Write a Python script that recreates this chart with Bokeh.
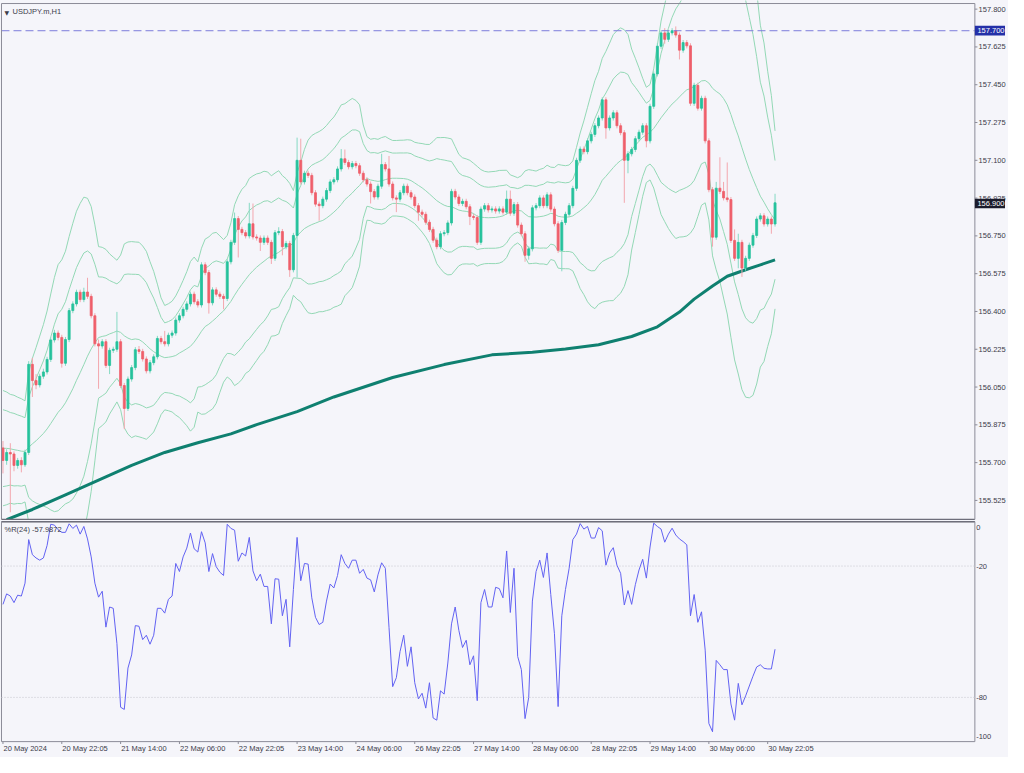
import numpy as np
from bokeh.plotting import figure
from bokeh.layouts import column
from bokeh.models import Range1d, Label, ColumnDataSource
from bokeh.core.properties import value
from bokeh.embed import file_html
from bokeh.resources import INLINE

# ---------------- data (USDJPY.m, H1) ----------------
opens = [155.768, 155.710, 155.747, 155.740, 155.687, 155.710, 155.690, 155.747, 156.155, 156.080,
         156.060, 156.100, 156.120, 156.178, 156.268, 156.300, 156.280, 156.160, 156.270, 156.404,
         156.435, 156.489, 156.455, 156.490, 156.470, 156.380, 156.250, 156.240, 156.260, 156.150,
         156.220, 156.225, 156.260, 156.057, 155.951, 156.087, 156.140, 156.223, 156.215, 156.180,
         156.125, 156.163, 156.190, 156.275, 156.260, 156.250, 156.290, 156.300, 156.360, 156.380,
         156.410, 156.435, 156.480, 156.445, 156.430, 156.616, 156.580, 156.440, 156.500, 156.480,
         156.470, 156.460, 156.630, 156.720, 156.830, 156.780, 156.765, 156.750, 156.806, 156.745,
         156.740, 156.720, 156.740, 156.720, 156.646, 156.765, 156.770, 156.700, 156.715, 156.593,
         156.752, 157.100, 157.000, 157.040, 157.030, 156.950, 156.897, 156.890, 156.920, 156.960,
         157.000, 157.010, 157.060, 157.107, 157.090, 157.070, 157.085, 157.075, 157.040, 157.010,
         156.990, 156.955, 156.930, 156.980, 157.080, 157.060, 156.990, 156.926, 156.920, 156.950,
         156.980, 156.950, 156.930, 156.890, 156.860, 156.850, 156.813, 156.780, 156.730, 156.700,
         156.760, 156.765, 156.810, 156.956, 156.930, 156.900, 156.910, 156.885, 156.840, 156.835,
         156.720, 156.874, 156.890, 156.870, 156.875, 156.865, 156.875, 156.860, 156.920, 156.855,
         156.895, 156.800, 156.760, 156.660, 156.690, 156.880, 156.890, 156.926, 156.890, 156.940,
         156.874, 156.806, 156.683, 156.812, 156.850, 156.890, 156.970, 157.100, 157.152, 157.140,
         157.190, 157.220, 157.260, 157.296, 157.380, 157.250, 157.296, 157.320, 157.260, 157.228,
         157.100, 157.130, 157.150, 157.200, 157.230, 157.260, 157.190, 157.350, 157.500, 157.628,
         157.690, 157.660, 157.690, 157.700, 157.680, 157.610, 157.645, 157.630, 157.364, 157.447,
         157.341, 157.387, 157.190, 156.964, 156.744, 156.971, 156.956, 156.926, 156.918, 156.729,
         156.646, 156.720, 156.601, 156.646, 156.707, 156.752, 156.828, 156.843, 156.805, 156.828,
         156.805]

highs = [155.800, 155.762, 155.790, 155.752, 155.722, 155.725, 155.760, 156.170, 156.185, 156.110,
         156.112, 156.135, 156.190, 156.280, 156.315, 156.312, 156.292, 156.282, 156.416, 156.447,
         156.501, 156.501, 156.510, 156.556, 156.482, 156.392, 156.270, 156.272, 156.272, 156.232,
         156.237, 156.398, 156.272, 156.069, 156.099, 156.152, 156.235, 156.240, 156.227, 156.192,
         156.175, 156.202, 156.287, 156.287, 156.310, 156.302, 156.312, 156.372, 156.392, 156.422,
         156.447, 156.492, 156.492, 156.457, 156.628, 156.628, 156.592, 156.512, 156.512, 156.492,
         156.482, 156.642, 156.732, 156.858, 156.842, 156.792, 156.777, 156.903, 156.900, 156.757,
         156.752, 156.752, 156.752, 156.732, 156.777, 156.790, 156.782, 156.727, 156.727, 156.764,
         157.205, 157.200, 157.052, 157.052, 157.042, 156.962, 156.909, 156.932, 156.972, 157.012,
         157.022, 157.072, 157.152, 157.150, 157.102, 157.097, 157.097, 157.087, 157.052, 157.022,
         157.002, 156.967, 156.992, 157.130, 157.092, 157.120, 157.002, 156.938, 156.962, 156.992,
         156.992, 156.962, 156.942, 156.902, 156.872, 156.862, 156.825, 156.792, 156.742, 156.772,
         156.777, 156.822, 156.968, 156.968, 156.942, 156.922, 156.922, 156.897, 156.852, 156.847,
         156.886, 156.902, 156.902, 156.887, 156.887, 156.887, 156.887, 156.960, 156.960, 156.907,
         156.907, 156.812, 156.772, 156.702, 156.892, 156.902, 156.938, 156.938, 156.952, 156.952,
         156.886, 156.818, 156.824, 156.862, 156.902, 156.982, 157.112, 157.164, 157.164, 157.202,
         157.232, 157.272, 157.308, 157.392, 157.392, 157.308, 157.332, 157.332, 157.272, 157.240,
         157.142, 157.162, 157.212, 157.242, 157.272, 157.272, 157.362, 157.512, 157.642, 157.702,
         157.712, 157.702, 157.712, 157.720, 157.692, 157.657, 157.657, 157.642, 157.459, 157.459,
         157.399, 157.399, 157.202, 156.976, 157.000, 157.114, 157.000, 157.090, 156.930, 156.780,
         156.760, 156.732, 156.658, 156.719, 156.764, 156.840, 156.855, 156.855, 156.840, 156.840,
         156.945]

lows = [155.650, 155.690, 155.470, 155.660, 155.672, 155.655, 155.680, 155.735, 156.004, 156.040,
        156.048, 156.088, 156.108, 156.166, 156.256, 156.266, 156.140, 156.148, 156.258, 156.392,
        156.423, 156.443, 156.443, 156.458, 156.368, 156.238, 156.042, 156.228, 156.138, 156.110,
        156.208, 156.213, 156.045, 155.855, 155.939, 156.075, 156.128, 156.203, 156.168, 156.113,
        156.113, 156.151, 156.178, 156.248, 156.238, 156.238, 156.278, 156.288, 156.348, 156.368,
        156.398, 156.423, 156.433, 156.418, 156.418, 156.568, 156.390, 156.428, 156.468, 156.458,
        156.410, 156.448, 156.618, 156.708, 156.650, 156.753, 156.738, 156.738, 156.733, 156.728,
        156.680, 156.708, 156.708, 156.620, 156.634, 156.753, 156.660, 156.688, 156.560, 156.581,
        156.557, 156.988, 156.988, 157.018, 156.938, 156.885, 156.820, 156.878, 156.908, 156.948,
        156.988, 156.998, 157.048, 157.078, 157.058, 157.058, 157.063, 157.028, 156.998, 156.978,
        156.900, 156.918, 156.918, 156.968, 157.048, 156.978, 156.914, 156.860, 156.908, 156.938,
        156.938, 156.918, 156.878, 156.820, 156.838, 156.801, 156.768, 156.718, 156.688, 156.688,
        156.748, 156.753, 156.798, 156.918, 156.888, 156.888, 156.873, 156.800, 156.823, 156.708,
        156.708, 156.862, 156.858, 156.858, 156.853, 156.853, 156.848, 156.848, 156.843, 156.843,
        156.788, 156.748, 156.630, 156.640, 156.678, 156.868, 156.878, 156.878, 156.878, 156.862,
        156.794, 156.671, 156.586, 156.800, 156.838, 156.878, 156.958, 157.088, 157.128, 157.128,
        157.178, 157.208, 157.248, 157.284, 157.200, 157.238, 157.284, 157.248, 157.216, 156.903,
        157.040, 157.118, 157.138, 157.188, 157.218, 157.160, 157.178, 157.338, 157.488, 157.616,
        157.640, 157.648, 157.678, 157.668, 157.567, 157.598, 157.618, 157.352, 157.352, 157.330,
        157.330, 157.178, 156.952, 156.700, 156.732, 156.944, 156.914, 156.906, 156.717, 156.634,
        156.600, 156.560, 156.589, 156.634, 156.695, 156.740, 156.816, 156.793, 156.793, 156.760,
        156.793]

closes = [155.710, 155.747, 155.740, 155.687, 155.710, 155.690, 155.747, 156.155, 156.080, 156.060,
          156.100, 156.120, 156.178, 156.268, 156.300, 156.280, 156.160, 156.270, 156.404, 156.435,
          156.489, 156.455, 156.490, 156.470, 156.380, 156.250, 156.240, 156.260, 156.150, 156.220,
          156.225, 156.260, 156.057, 155.951, 156.087, 156.140, 156.223, 156.215, 156.180, 156.125,
          156.163, 156.190, 156.275, 156.260, 156.250, 156.290, 156.300, 156.360, 156.380, 156.410,
          156.435, 156.480, 156.445, 156.430, 156.616, 156.580, 156.440, 156.500, 156.480, 156.470,
          156.460, 156.630, 156.720, 156.830, 156.780, 156.765, 156.750, 156.806, 156.745, 156.740,
          156.720, 156.740, 156.720, 156.646, 156.765, 156.770, 156.700, 156.715, 156.593, 156.752,
          157.100, 157.000, 157.040, 157.030, 156.950, 156.897, 156.890, 156.920, 156.960, 157.000,
          157.010, 157.060, 157.107, 157.090, 157.070, 157.085, 157.075, 157.040, 157.010, 156.990,
          156.955, 156.930, 156.980, 157.080, 157.060, 156.990, 156.926, 156.920, 156.950, 156.980,
          156.950, 156.930, 156.890, 156.860, 156.850, 156.813, 156.780, 156.730, 156.700, 156.760,
          156.765, 156.810, 156.956, 156.930, 156.900, 156.910, 156.885, 156.840, 156.835, 156.720,
          156.874, 156.890, 156.870, 156.875, 156.865, 156.875, 156.860, 156.920, 156.855, 156.895,
          156.800, 156.760, 156.660, 156.690, 156.880, 156.890, 156.926, 156.890, 156.940, 156.874,
          156.806, 156.683, 156.812, 156.850, 156.890, 156.970, 157.100, 157.152, 157.140, 157.190,
          157.220, 157.260, 157.296, 157.380, 157.250, 157.296, 157.320, 157.260, 157.228, 157.100,
          157.130, 157.150, 157.200, 157.230, 157.260, 157.190, 157.350, 157.500, 157.628, 157.690,
          157.660, 157.690, 157.700, 157.680, 157.610, 157.645, 157.630, 157.364, 157.447, 157.341,
          157.387, 157.190, 156.964, 156.744, 156.971, 156.956, 156.926, 156.918, 156.729, 156.646,
          156.720, 156.601, 156.646, 156.707, 156.752, 156.828, 156.843, 156.805, 156.828, 156.805,
          156.903]

# Bollinger (20) middle / deviation for the first bars, whose window reaches before the chart
band_mid_head = [155.767, 155.766, 155.764, 155.760, 155.757, 155.753, 155.752, 155.771, 155.787,
                 155.801, 155.818, 155.835, 155.856, 155.881, 155.907, 155.933, 155.952, 155.977,
                 156.009]
band_sd_head = [0.089, 0.087, 0.084, 0.084, 0.082, 0.081, 0.078, 0.116, 0.132, 0.144, 0.156,
                0.168, 0.182, 0.200, 0.217, 0.228, 0.229, 0.234, 0.246]

# 200-period moving average, read at sample bars
sma200_idx = [1, 8, 17, 26, 35, 44, 53, 62, 69, 80, 90, 106, 120, 133, 144, 153, 162, 171,
              178, 184, 188, 193, 197, 202, 206, 210]
sma200_val = [155.436, 155.483, 155.551, 155.619, 155.687, 155.747, 155.792, 155.833, 155.876,
              155.936, 156.004, 156.094, 156.154, 156.199, 156.211, 156.226, 156.246, 156.284,
              156.329, 156.397, 156.457, 156.518, 156.563, 156.593, 156.616, 156.639]

# Williams %R (24)
wr_values = [-37.5, -32.7, -33.7, -36.7, -33.3, -33.7, -27.8, -7.9, -14.8, -16.3,
             -17.3, -16.3, -10.6, -0.9, -1.3, -3.4, -4.6, -4.6, -0.7, -2.8,
             -1.3, -5.4, -1.9, -7.6, -15.8, -27.8, -34.2, -31.5, -47.9, -38.7,
             -39.3, -55.4, -84.5, -85.5, -66.6, -60.6, -47.2, -47.5, -53.6, -51.6,
             -55.7, -51.6, -39.3, -39.3, -41.5, -35.2, -33.7, -18.8, -22.5, -15.8,
             -11.8, -4.9, -12.1, -13.6, -4.3, -9.4, -22.5, -14.3, -20.3, -22.8,
             -24.3, -0.9, -2.8, -3.6, -17.8, -14.0, -15.4, -6.9, -22.2, -26.7,
             -23.7, -29.3, -29.3, -46.4, -25.8, -26.0, -42.7, -35.2, -56.9, -30.7,
             -6.9, -26.7, -18.8, -19.1, -34.5, -43.4, -46.7, -45.7, -36.0, -28.2,
             -30.0, -24.3, -14.8, -18.8, -21.0, -17.3, -17.3, -23.3, -21.5, -25.5,
             -26.3, -31.8, -24.0, -18.5, -21.0, -48.0, -75.1, -71.0, -59.1, -51.6,
             -65.8, -56.9, -73.3, -80.7, -78.1, -84.9, -73.3, -89.4, -90.4, -77.0,
             -78.5, -64.3, -46.4, -38.7, -49.4, -57.2, -53.9, -65.1, -61.0, -81.5,
             -36.7, -30.7, -38.7, -38.7, -29.7, -30.3, -34.5, -13.1, -41.2, -21.0,
             -61.3, -67.3, -89.7, -80.0, -36.0, -22.5, -17.3, -25.2, -14.0, -33.0,
             -50.9, -84.2, -42.7, -30.7, -21.0, -7.9, -5.4, -0.6, -3.1, -1.9,
             -7.2, -7.2, -2.4, -3.9, -19.6, -14.0, -11.6, -19.6, -23.3, -37.8,
             -31.2, -37.5, -28.5, -21.8, -16.9, -25.5, -11.3, -0.4, -1.9, -3.1,
             -9.1, -5.4, -2.7, -5.8, -7.6, -8.8, -10.3, -42.7, -33.0, -45.7,
             -40.9, -58.4, -91.9, -95.7, -63.1, -65.1, -67.3, -67.3, -83.0, -90.4,
             -73.6, -83.4, -79.3, -74.8, -70.3, -66.1, -65.1, -66.7, -67.0, -67.0,
             -57.99]

x_tick_idx = [0, 16, 32, 48, 64, 80, 96, 112, 128, 144, 160, 176, 192, 208]
x_tick_labels = ["20 May 2024", "20 May 22:05", "21 May 14:00", "22 May 06:00", "22 May 22:05",
                 "23 May 14:00", "24 May 06:00", "26 May 22:05", "27 May 14:00", "28 May 06:00",
                 "28 May 22:05", "29 May 14:00", "30 May 06:00", "30 May 22:05"]
price_ticks = [157.800, 157.625, 157.450, 157.275, 157.100, 156.925, 156.750, 156.575,
               156.400, 156.225, 156.050, 155.875, 155.700, 155.525]
price_tick_text = ["157.800", "157.625", "157.450", "157.275", "157.100", "156.925", "156.750",
                   "156.575", "156.400", "156.225", "156.050", "155.875", "155.700", "155.525"]
level_line = 157.700
last_price = 156.900
wr_levels = [-20, -80]
wr_tick_pos = [-2.5, -20, -80, -98]
wr_tick_text = ["0", "-20", "-80", "-100"]

# ---------------- geometry / styles ----------------
X0, X1 = -0.67, 273.5          # visible bar range of the canvas
XL = -0.40                     # left panel border
XA = 264.35                    # price-scale line
PY0, PY1 = 155.432, 157.840    # price range of the top canvas
PB, PT = 155.437, 157.826      # bottom / top border of price panel
WY0, WY1 = -107.46, 0.82       # %R canvas range (includes time-scale strip)
WB, WT = -100.2, 0.3           # %R panel borders

BG = "#f5f5fa"
FRAME = "#8c8c98"
SEP = "#6e6e7a"
TXT = "#3c3c4a"
BULL = "#26c29c"
BEAR = "#ef5f6b"
BULL_WICK = "#86d9c3"
BEAR_WICK = "#f3a7ae"
BAND = "#93d8b5"
SMA = "#0f8070"
WR = "#6262f2"
FONT = "Liberation Sans"
FS = "7.5px"

o = np.array(opens); h = np.array(highs); l = np.array(lows); c = np.array(closes)
n = len(c)
idx = np.arange(n)

mid = np.zeros(n); sd = np.zeros(n)
mid[:19] = band_mid_head
sd[:19] = band_sd_head
for i in range(19, n):
    w = c[i - 19:i + 1]
    mid[i] = w.mean()
    sd[i] = w.std()

up = c >= o
dn = ~up
src_up = ColumnDataSource(dict(x=idx[up], o=o[up], c=c[up], h=h[up], l=l[up]))
src_dn = ColumnDataSource(dict(x=idx[dn], o=o[dn], c=c[dn], h=h[dn], l=l[dn]))

xr = Range1d(X0, X1)


def bare(fig):
    fig.outline_line_color = None
    fig.grid.visible = False
    fig.background_fill_color = BG
    fig.border_fill_color = BG
    fig.min_border_left = 0
    fig.min_border_right = 0
    fig.min_border_top = 0
    fig.min_border_bottom = 0


p = figure(width=1008, height=520, x_range=xr, y_range=Range1d(PY0, PY1),
           output_backend="svg", toolbar_location=None, x_axis_location=None,
           y_axis_location=None)
bare(p)

# Bollinger bands
for k in (3, 2, 0, -2, -3):
    p.line(idx, mid + k * sd, line_color=BAND, line_width=1)
# 200 MA
p.line(sma200_idx, sma200_val, line_color=SMA, line_width=3)

# candles
p.segment(x0="x", y0="h", x1="x", y1="l", source=src_up, line_color=BULL_WICK, line_width=1)
p.segment(x0="x", y0="h", x1="x", y1="l", source=src_dn, line_color=BEAR_WICK, line_width=1)
p.vbar(x="x", top="c", bottom="o", width=0.55, source=src_up, fill_color=BULL,
       line_color=BULL, line_width=0.8)
p.vbar(x="x", top="o", bottom="c", width=0.55, source=src_dn, fill_color=BEAR,
       line_color=BEAR, line_width=0.8)

# level line
p.segment(x0=[XL], y0=[level_line], x1=[XA], y1=[level_line], line_color="#7d7ddc",
          line_dash="8 4", line_width=1)

# panel frame and price scale
p.segment(x0=[XL, XL], y0=[PB, PT], x1=[XL, XA], y1=[PT, PT], line_color=FRAME, line_width=1)
p.segment(x0=[XL], y0=[PB], x1=[XA], y1=[PB], line_color=SEP, line_width=1.5)
p.segment(x0=[XA], y0=[PB], x1=[XA], y1=[PT], line_color=FRAME, line_width=1)
p.segment(x0=[XA] * len(price_ticks), y0=price_ticks, x1=[XA + 0.7] * len(price_ticks),
          y1=price_ticks, line_color=FRAME, line_width=1)
p.text(x=[XA + 1.0] * len(price_ticks), y=price_ticks, text=price_tick_text,
       text_font=value(FONT), text_font_size=value(FS), text_color=TXT,
       text_baseline="middle", text_align="left")

# price badges
p.quad(left=[XA, XA], right=[XA + 8.2, XA + 8.2],
       bottom=[level_line - 0.0225, last_price - 0.0225],
       top=[level_line + 0.0225, last_price + 0.0225],
       fill_color=["#2430a8", "#1c1c2c"], line_color=None)
p.text(x=[XA + 0.7, XA + 0.7], y=[level_line, last_price], text=["157.700", "156.900"],
       text_font=value(FONT), text_font_size=value(FS), text_color="white",
       text_baseline="middle", text_align="left")

p.add_layout(Label(x=XL, y=PT, x_offset=3, y_offset=-5, text="▼",
                   text_font="DejaVu Sans", text_font_size="6px", text_color=TXT,
                   text_baseline="top"))
p.add_layout(Label(x=XL, y=PT, x_offset=11, y_offset=-3, text="USDJPY.m,H1",
                   text_font=FONT, text_font_size=FS, text_color=TXT,
                   text_baseline="top"))

# ---------------- %R panel ----------------
p2 = figure(width=1008, height=237, x_range=xr, y_range=Range1d(WY0, WY1),
            output_backend="svg", toolbar_location=None, x_axis_location=None,
            y_axis_location=None)
bare(p2)

p2.segment(x0=[XL, XL], y0=[WT, WB], x1=[XA, XA], y1=[WT, WB], line_color=FRAME, line_width=1)
p2.segment(x0=[XL], y0=[WT], x1=[XA], y1=[WT], line_color=SEP, line_width=1.5)
p2.segment(x0=[XL, XA], y0=[WB, WB], x1=[XL, XA], y1=[WT, WT], line_color=FRAME, line_width=1)
p2.segment(x0=[XL] * len(wr_levels), y0=wr_levels, x1=[XA] * len(wr_levels), y1=wr_levels,
           line_color="#c6c6ce", line_dash="1 2", line_width=1)
p2.line(idx, wr_values, line_color=WR, line_width=1)

p2.text(x=[XA + 0.35] * len(wr_tick_pos), y=wr_tick_pos, text=wr_tick_text,
        text_font=value(FONT), text_font_size=value(FS), text_color=TXT,
        text_baseline="middle", text_align="left")

# time scale
p2.segment(x0=x_tick_idx, y0=[WB] * len(x_tick_idx), x1=x_tick_idx,
           y1=[WB - 1.1] * len(x_tick_idx), line_color=FRAME, line_width=1)
p2.text(x=[t + 0.15 for t in x_tick_idx], y=[WB - 1.3] * len(x_tick_idx), text=x_tick_labels,
        text_font=value(FONT), text_font_size=value(FS), text_color=TXT,
        text_baseline="top", text_align="left")

p2.add_layout(Label(x=XL, y=WT, x_offset=3, y_offset=-3,
                    text="%R(24) -57.9872", text_font=FONT, text_font_size=FS,
                    text_color=TXT, text_baseline="top"))

layout = column(p, p2, spacing=0, styles={"background-color": BG})
open("out.html", "w").write(file_html(layout, INLINE))
